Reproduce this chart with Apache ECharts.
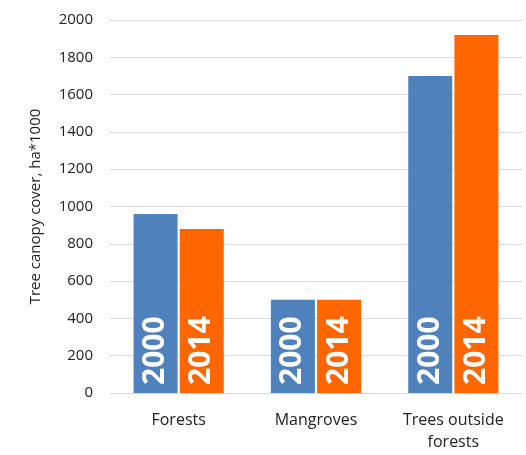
<!DOCTYPE html>
<html>
<head>
<meta charset="utf-8">
<script src="https://cdn.jsdelivr.net/npm/echarts@6/dist/echarts.min.js"></script>
<style>
  html, body { margin: 0; padding: 0; background: #fff; }
  #chart { width: 526px; height: 455px; }
</style>
</head>
<body>
<div id="chart"></div>
<script>
// Tree canopy cover by land type, thousands of hectares
const categories = ['Forests', 'Mangroves', 'Trees outside\nforests'];
const values2000 = [960, 500, 1700];
const values2014 = [880, 500, 1920];
const yearNames = ['2000', '2014'];
const yTicks = { min: 0, max: 2000, interval: 200 };

const font = '"Open Sans", "Liberation Sans", sans-serif';

function yearLabel(name) {
  return {
    show: true,
    position: 'insideBottom',
    rotate: 90,
    distance: 8,
    align: 'left',
    verticalAlign: 'middle',
    formatter: name,
    color: '#ffffff',
    fontFamily: font,
    fontWeight: 'bold',
    fontSize: 30
  };
}

const chart = echarts.init(document.getElementById('chart'));
chart.setOption({
  animation: false,
  grid: { left: 110, right: 4, top: 20, bottom: 62 },
  xAxis: {
    type: 'category',
    data: categories,
    axisLine: { lineStyle: { color: '#d9d9d9', width: 1 } },
    axisTick: { show: false },
    axisLabel: {
      color: '#222222',
      fontFamily: font,
      fontSize: 16,
      margin: 16,
      lineHeight: 22
    }
  },
  yAxis: {
    type: 'value',
    min: yTicks.min,
    max: yTicks.max,
    interval: yTicks.interval,
    name: 'Tree canopy cover, ha*1000',
    nameLocation: 'middle',
    nameGap: 67,
    nameTextStyle: { color: '#222222', fontFamily: font, fontSize: 15 },
    axisLine: { show: false },
    axisTick: { show: false },
    splitLine: { lineStyle: { color: '#d9d9d9', width: 1 } },
    axisLabel: {
      color: '#222222',
      fontFamily: font,
      fontSize: 15,
      margin: 17,
      formatter: (v) => String(v)
    }
  },
  series: [
    {
      name: yearNames[0],
      type: 'bar',
      data: values2000,
      barWidth: 44,
      barGap: '5%',
      itemStyle: { color: '#4f81bd' },
      label: yearLabel(yearNames[0])
    },
    {
      name: yearNames[1],
      type: 'bar',
      data: values2014,
      barWidth: 44,
      itemStyle: { color: '#ff6600' },
      label: yearLabel(yearNames[1])
    }
  ]
});
</script>
</body>
</html>
